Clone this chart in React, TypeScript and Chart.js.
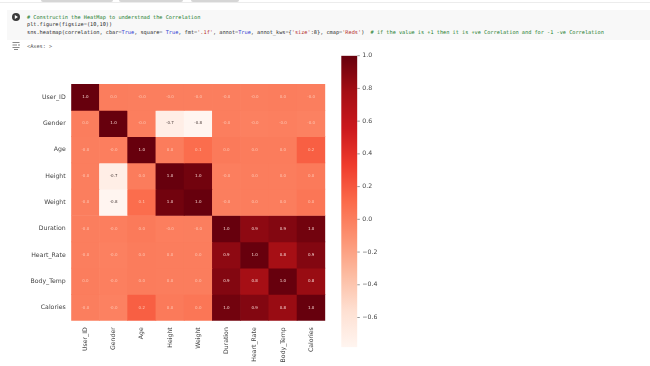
import React, { useEffect, useRef } from "react";
import { Chart, registerables } from "chart.js";

Chart.register(...registerables);

const labels = ["User_ID", "Gender", "Age", "Height", "Weight", "Duration", "Heart_Rate", "Body_Temp", "Calories"];

const rowUserId = [1.0, 0.001, -0.001, -0.001, -0.001, -0.001, -0.002, 0.001, -0.001];
const rowGender = [0.001, 1.0, -0.003, -0.71, -0.78, -0.003, -0.011, -0.007, -0.02];
const rowAge = [-0.001, -0.003, 1.0, 0.01, 0.09, 0.02, 0.01, 0.01, 0.16];
const rowHeight = [-0.001, -0.71, 0.01, 1.0, 0.96, -0.004, 0.001, 0.001, 0.02];
const rowWeight = [-0.001, -0.78, 0.09, 0.96, 1.0, -0.002, 0.004, 0.005, 0.04];
const rowDuration = [-0.001, -0.003, 0.02, -0.004, -0.002, 1.0, 0.86, 0.9, 0.96];
const rowHeartRate = [-0.002, -0.011, 0.01, 0.001, 0.004, 0.86, 1.0, 0.77, 0.9];
const rowBodyTemp = [0.001, -0.007, 0.01, 0.001, 0.005, 0.9, 0.77, 1.0, 0.82];
const rowCalories = [-0.001, -0.02, 0.16, 0.02, 0.04, 0.96, 0.9, 0.82, 1.0];
const matrix = [rowUserId, rowGender, rowAge, rowHeight, rowWeight, rowDuration, rowHeartRate, rowBodyTemp, rowCalories];

const colorbarTicks = [1.0, 0.8, 0.6, 0.4, 0.2, 0.0, -0.2, -0.4, -0.6];
const vmin = -0.782;
const vmax = 1.0;

const reds = ["#fff5f0", "#fee0d2", "#fcbba1", "#fc9272", "#fb6a4a", "#ef3b2c", "#cb181d", "#a50f15", "#67000d"];

function hex(c: string) {
  return [1, 3, 5].map((i) => parseInt(c.slice(i, i + 2), 16));
}
function redsAt(t: number) {
  const p = Math.min(0.9999, Math.max(0, t)) * (reds.length - 1);
  const i = Math.floor(p);
  const f = p - i;
  const a = hex(reds[i]);
  const b = hex(reds[i + 1]);
  return `rgb(${a.map((v, k) => Math.round(v + (b[k] - v) * f)).join(",")})`;
}
const norm = (v: number) => (v - vmin) / (vmax - vmin);

const annotPlugin = {
  id: "annot",
  afterDatasetsDraw(chart: any) {
    const { ctx } = chart;
    const yS = chart.scales.y;
    ctx.save();
    ctx.font = '4px "DejaVu Sans"';
    ctx.textAlign = "center";
    ctx.textBaseline = "middle";
    matrix.forEach((row, r) => {
      const meta = chart.getDatasetMeta(r);
      row.forEach((v, c) => {
        ctx.fillStyle = v < -0.3 ? "#4a3c3a" : v > 0.5 ? "#f6d4d0" : "#ffc6b2";
        ctx.fillText(v.toFixed(1), meta.data[c].x, yS.getPixelForValue(r + 0.5));
      });
    });
    ctx.restore();
  },
};

const COMMENT = "#1c7d2c";
const KW = "#2a35d0";
const STR = "#b52a2a";
const TXT = "#2a2a2a";

const lineStyle: React.CSSProperties = {
  position: "absolute",
  left: 27,
  fontFamily: '"DejaVu Sans Mono"',
  fontSize: 5.245,
  lineHeight: "7px",
  whiteSpace: "pre",
  color: TXT,
};

export default function App() {
  const heatRef = useRef<HTMLCanvasElement>(null);
  const barRef = useRef<HTMLCanvasElement>(null);

  useEffect(() => {
    document.body.style.margin = "0";
    document.body.style.background = "#fff";
    const heat = new Chart(heatRef.current!, {
      type: "bar",
      data: {
        labels,
        datasets: matrix.map((row, r) => ({
          label: labels[r],
          data: row.map(() => [r, r + 1]),
          backgroundColor: row.map((v) => redsAt(norm(v))),
          borderColor: row.map((v) => redsAt(norm(v))),
          borderWidth: 0,
          grouped: false,
          barPercentage: 1,
          categoryPercentage: 1,
        })),
      } as any,
      options: {
        animation: false,
        responsive: false,
        layout: { padding: { top: 24, right: 9.7, left: 0, bottom: 0 } },
        plugins: { legend: { display: false }, tooltip: { enabled: false } },
        scales: {
          x: {
            grid: { display: false, drawTicks: false },
            border: { display: false },
            afterFit(s: any) {
              s.height = 45.3;
            },
            ticks: {
              minRotation: 90,
              maxRotation: 90,
              autoSkip: false,
              padding: 6.5,
              color: "#444",
              font: { family: "DejaVu Sans", size: 6.2 },
            },
          },
          y: {
            reverse: true,
            min: 0,
            max: 9,
            grid: { display: false, drawTicks: false },
            border: { display: false },
            afterFit(s: any) {
              s.width = 71.2;
            },
            afterBuildTicks(s: any) {
              s.ticks = labels.map((_, i) => ({ value: i + 0.5 }));
            },
            ticks: {
              autoSkip: false,
              padding: 5.5,
              color: "#444",
              font: { family: "DejaVu Sans", size: 6.2 },
              callback: (v: any) => labels[Math.floor(Number(v))],
            },
          },
        },
      } as any,
      plugins: [annotPlugin],
    });

    const bar = new Chart(barRef.current!, {
      type: "bar",
      data: {
        labels: ["cbar"],
        datasets: [
          {
            data: [[vmin, vmax]],
            borderWidth: 0,
            barPercentage: 1,
            categoryPercentage: 1,
            backgroundColor(ctx: any) {
              const { chart } = ctx;
              const y = chart.scales?.y;
              const y0 = y ? y.getPixelForValue(vmin) : NaN;
              const y1 = y ? y.getPixelForValue(vmax) : NaN;
              if (!Number.isFinite(y0) || !Number.isFinite(y1)) return reds[4];
              const g = chart.ctx.createLinearGradient(0, y0, 0, y1);
              reds.forEach((c, i) => g.addColorStop(i / (reds.length - 1), c));
              return g;
            },
          },
        ],
      } as any,
      options: {
        animation: false,
        responsive: false,
        layout: { padding: { left: 6.3, top: 15.7, right: 0, bottom: 6.7 } },
        plugins: { legend: { display: false }, tooltip: { enabled: false } },
        scales: {
          x: { display: false },
          y: {
            position: "right",
            min: vmin,
            max: vmax,
            grid: { display: false, drawTicks: false },
            border: { display: false },
            afterFit(s: any) {
              s.width = 37.7;
            },
            afterBuildTicks(s: any) {
              s.ticks = colorbarTicks.map((value) => ({ value }));
            },
            ticks: {
              padding: 5,
              color: "#444",
              font: { family: "DejaVu Sans", size: 6.2 },
              callback: (v: any) => Number(v).toFixed(1).replace("-", "\u2212"),
            },
          },
        },
      } as any,
      plugins: [
        {
          id: "tickMarks",
          afterDraw(chart: any) {
            const { ctx, chartArea } = chart;
            const y = chart.scales.y;
            ctx.save();
            ctx.strokeStyle = "#555";
            ctx.lineWidth = 0.6;
            colorbarTicks.forEach((v) => {
              const p = y.getPixelForValue(v);
              ctx.beginPath();
              ctx.moveTo(chartArea.right, p);
              ctx.lineTo(chartArea.right + 2.5, p);
              ctx.stroke();
            });
            ctx.restore();
          },
        },
      ],
    });
    return () => {
      heat.destroy();
      bar.destroy();
    };
  }, []);

  return (
    <div style={{ position: "relative", width: 650, height: 366, overflow: "hidden", background: "#fff", filter: "blur(0.35px)" }}>
      {[[41, 72], [119, 64], [191, 48]].map(([left, width]) => (
        <div key={left} style={{ position: "absolute", left, top: 0, width, height: 2, background: "#d6d6d6", borderRadius: "0 0 2px 2px" }} />
      ))}
      <div style={{ position: "absolute", left: 0, top: 2, width: 650, height: 1, background: "#ececec" }} />
      <div style={{ position: "absolute", left: 7, top: 10, width: 643, height: 30, background: "#f8f8f8" }} />
      <svg style={{ position: "absolute", left: 11, top: 12 }} width={10} height={10}>
        <circle cx={5} cy={5} r={4} fill="#3a3a3a" />
        <path d="M3.8 3 L7 5 L3.8 7 Z" fill="#fff" />
      </svg>
      <svg style={{ position: "absolute", left: 11, top: 41 }} width={10} height={10}>
        <path d="M1.5 1.5 H8.5 M1.5 4 H6 M7 4 H9 M1.5 6.5 H8.5 M3 8.5 H7" stroke="#555" strokeWidth={0.7} />
      </svg>
      <div style={{ ...lineStyle, top: 13.5, color: COMMENT }}># Constructin the HeatMap to understnad the Correlation</div>
      <div style={{ ...lineStyle, top: 21 }}>plt.figure(figsize=(10,10))</div>
      <div style={{ ...lineStyle, top: 28.5 }}>
        {"sns.heatmap(correlation, cbar="}
        <span style={{ color: KW }}>True</span>
        {", square= "}
        <span style={{ color: KW }}>True</span>
        {", fmt="}
        <span style={{ color: STR }}>'.1f'</span>
        {", annot="}
        <span style={{ color: KW }}>True</span>
        {", annot_kws={"}
        <span style={{ color: STR }}>'size'</span>
        {":8}, cmap="}
        <span style={{ color: STR }}>'Reds'</span>
        {")  "}
        <span style={{ color: COMMENT }}># if the value is +1 then it is +ve Correlation and for -1 -ve Correlation</span>
      </div>
      <div style={{ ...lineStyle, top: 42.5, color: "#555" }}>{"<Axes: >"}</div>
      <canvas ref={heatRef} width={335} height={306} style={{ position: "absolute", left: 0, top: 60, display: "block" }} />
      <canvas ref={barRef} width={60} height={316} style={{ position: "absolute", left: 335, top: 40, display: "block" }} />
    </div>
  );
}
